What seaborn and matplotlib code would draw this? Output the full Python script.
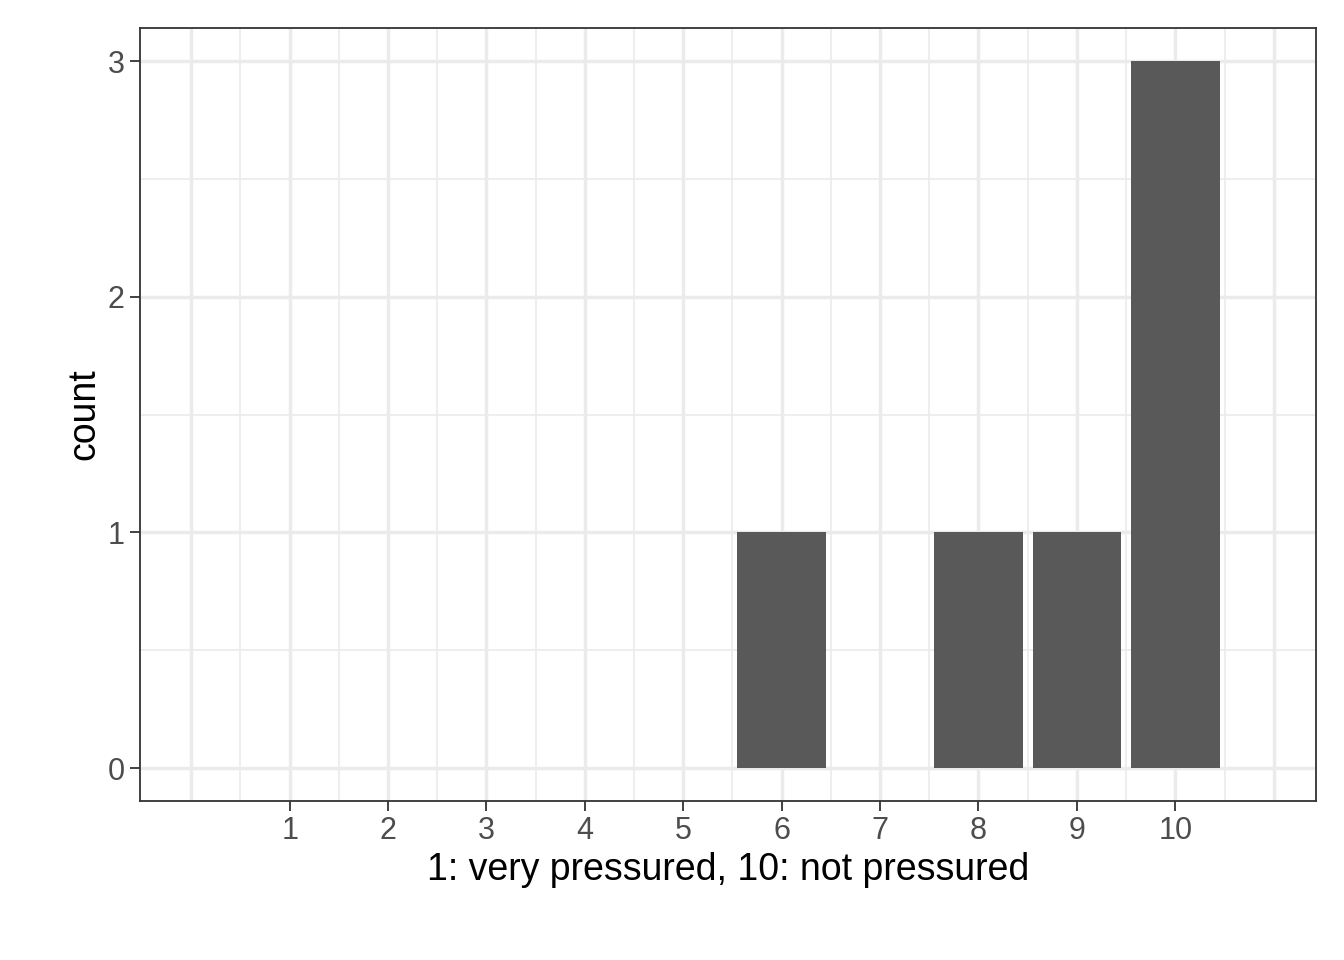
import matplotlib
matplotlib.use("Agg")
import matplotlib.pyplot as plt
import seaborn as sns
import pandas as pd
import numpy as np

scores = [6, 8, 9, 10]
counts = [1, 1, 1, 3]
xticks = [1, 2, 3, 4, 5, 6, 7, 8, 9, 10]

sns.set_theme(style="white")
plt.rcParams['font.family'] = ['Liberation Sans', 'DejaVu Sans']
fig = plt.figure(figsize=(13.44, 9.6), dpi=100)
ax = fig.add_axes([0.1042, 0.1656, 0.8750, 0.8052])
df = pd.DataFrame({"score": scores, "count": counts})
sns.barplot(data=df, x="score", y="count", native_scale=True, width=0.9,
            color="#595959", saturation=1, ax=ax, zorder=3)
for p in ax.patches:
    p.set_edgecolor("none")
ax.set_xlim(-0.52, 11.43)
ax.set_ylim(-0.14, 3.14)
ax.set_xticks(xticks)
ax.set_xticks(np.arange(0, 11.01, 0.5), minor=True)
ax.set_yticks([0, 1, 2, 3])
ax.set_yticks([0.5, 1.5, 2.5], minor=True)
ax.grid(True, which="major", color="#ebebeb", linewidth=2.5, zorder=0)
ax.grid(True, which="minor", color="#ebebeb", linewidth=1.2, zorder=0)
# major x grid at 0 and 11 too
for v in [0, 11]:
    ax.axvline(v, color="#ebebeb", linewidth=2.5, zorder=0)
ax.set_axisbelow(True)
for s in ax.spines.values():
    s.set_color("#333333"); s.set_linewidth(1.3)
ax.tick_params(axis="both", which="major", length=7, width=1.3, color="#333333",
               labelsize=22, labelcolor="#4d4d4d", bottom=True, left=True, pad=4)
ax.tick_params(which="minor", length=0)
ax.set_xlabel("1: very pressured, 10: not pressured", fontsize=27, color="black")
ax.set_ylabel("count", fontsize=27, color="black")
fig.savefig("out.png", dpi=100)
